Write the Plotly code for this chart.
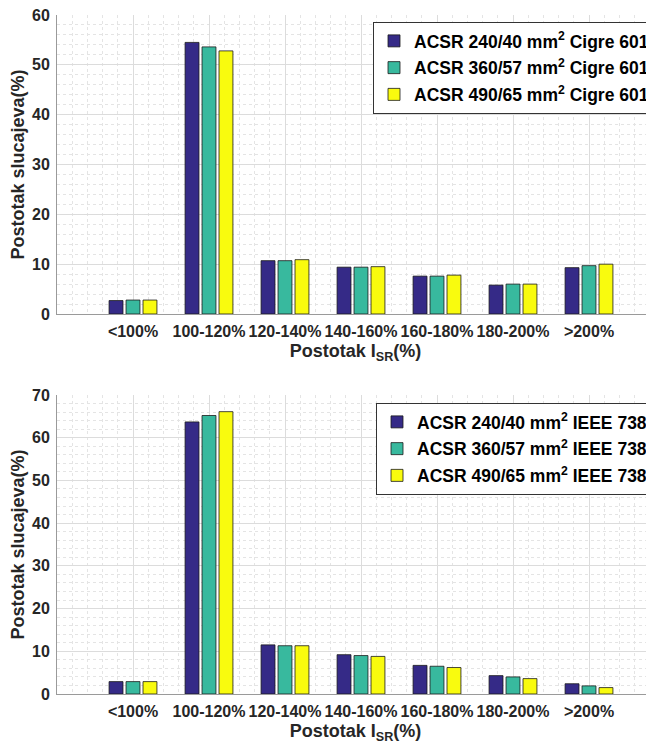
import plotly.graph_objects as go

categories = ["<100%", "100-120%", "120-140%", "140-160%", "160-180%", "180-200%", ">200%"]
x_pos = [1, 2, 3, 4, 5, 6, 7]

cigre_240 = [2.7, 54.5, 10.7, 9.4, 7.6, 5.8, 9.3]
cigre_360 = [2.8, 53.6, 10.7, 9.4, 7.6, 6.0, 9.7]
cigre_490 = [2.8, 52.8, 10.9, 9.5, 7.8, 6.0, 10.0]

ieee_240 = [2.9, 63.7, 11.5, 9.2, 6.7, 4.3, 2.4]
ieee_360 = [2.9, 65.2, 11.3, 9.0, 6.5, 4.0, 1.9]
ieee_490 = [2.9, 66.1, 11.3, 8.8, 6.2, 3.6, 1.5]

names_top = ["ACSR 240/40 mm<sup>2</sup> Cigre 601",
             "ACSR 360/57 mm<sup>2</sup> Cigre 601",
             "ACSR 490/65 mm<sup>2</sup> Cigre 601"]
names_bot = ["ACSR 240/40 mm<sup>2</sup> IEEE 738",
             "ACSR 360/57 mm<sup>2</sup> IEEE 738",
             "ACSR 490/65 mm<sup>2</sup> IEEE 738"]
colors = ["#352A87", "#38B99E", "#F9FB0E"]

FONT = "Liberation Sans, Arial, sans-serif"
TXT = "#262626"

fig = go.Figure()
for i, vals in enumerate([cigre_240, cigre_360, cigre_490]):
    fig.add_trace(go.Bar(x=x_pos, y=vals, name=names_top[i], marker_color=colors[i],
                         marker_line_color="#1a1a1a", marker_line_width=0.8,
                         xaxis="x", yaxis="y", legend="legend", legendgroup="t%d" % i))
for i, vals in enumerate([ieee_240, ieee_360, ieee_490]):
    fig.add_trace(go.Bar(x=x_pos, y=vals, name=names_bot[i], marker_color=colors[i],
                         marker_line_color="#1a1a1a", marker_line_width=0.8,
                         xaxis="x2", yaxis="y2", legend="legend2", legendgroup="b%d" % i))

# page body has an 8px margin, so the figure is drawn offset by 8px
OFF = 8
W, H = 654 - OFF, 746 - OFF
L, R, T = 57 - OFF, 0, 15 - OFF
B = H - (694 - OFF)
ph = H - T - B
pw = W - L - R
def py(y_screen):
    return ((694 - OFF) - (y_screen - OFF)) / ph
def px(x_screen):
    return ((x_screen - OFF) - L) / pw

top_dom = [py(314), 1.0]
bot_dom = [0.0, py(395)]
xr = [0, pw / 76.0]

def xaxis_cfg(anchor):
    return dict(
        anchor=anchor, domain=[0, 1], range=xr,
        tickmode="array", tickvals=x_pos, ticktext=categories, tickangle=0,
        tickfont=dict(family=FONT, size=16, color=TXT, weight="bold"),
        showgrid=True, gridcolor="#dcdcdc", gridwidth=1,
        minor=dict(dtick=0.2, tick0=0, showgrid=True, gridcolor="#e4e4e4", griddash="dot", gridwidth=1),
        showline=True, linecolor="#9a9a9a", linewidth=1,
        ticks="", zeroline=False, ticklabelstandoff=3,
        title=dict(text="Postotak I<sub>SR</sub>(%)", standoff=5,
                   font=dict(family=FONT, size=18, color=TXT, weight="bold")),
    )

def yaxis_cfg(anchor, domain, rng):
    return dict(
        anchor=anchor, domain=domain, range=rng, dtick=10,
        tickfont=dict(family=FONT, size=16, color=TXT, weight="bold"),
        showgrid=True, gridcolor="#dcdcdc", gridwidth=1,
        minor=dict(dtick=2, showgrid=True, gridcolor="#e4e4e4", griddash="dot", gridwidth=1),
        showline=True, linecolor="#9a9a9a", linewidth=1,
        ticks="", zeroline=False, ticklabelstandoff=3, ticklabeloverflow="allow",
        title=dict(text="Postotak slucajeva(%)", standoff=4,
                   font=dict(family=FONT, size=18, color=TXT, weight="bold")),
    )

legend_common = dict(
    bgcolor="white", bordercolor="#333333", borderwidth=1,
    font=dict(family=FONT, size=17.5, color="black", weight="bold"),
    xanchor="left", yanchor="top", tracegroupgap=1, itemwidth=30,
)

fig.update_layout(
    width=W, height=H,
    margin=dict(l=L, r=R, t=T, b=B, autoexpand=False),
    paper_bgcolor="white", plot_bgcolor="white",
    barmode="group", bargap=0.33, bargroupgap=0.18,
    xaxis=xaxis_cfg("y"),
    yaxis=yaxis_cfg("x", top_dom, [0, 60]),
    xaxis2=xaxis_cfg("y2"),
    yaxis2=yaxis_cfg("x2", bot_dom, [0, 70]),
    legend=dict(x=px(373), y=py(22), **legend_common),
    legend2=dict(x=px(376), y=py(403), **legend_common),
    showlegend=True,
)

fig.write_html("out.html")
